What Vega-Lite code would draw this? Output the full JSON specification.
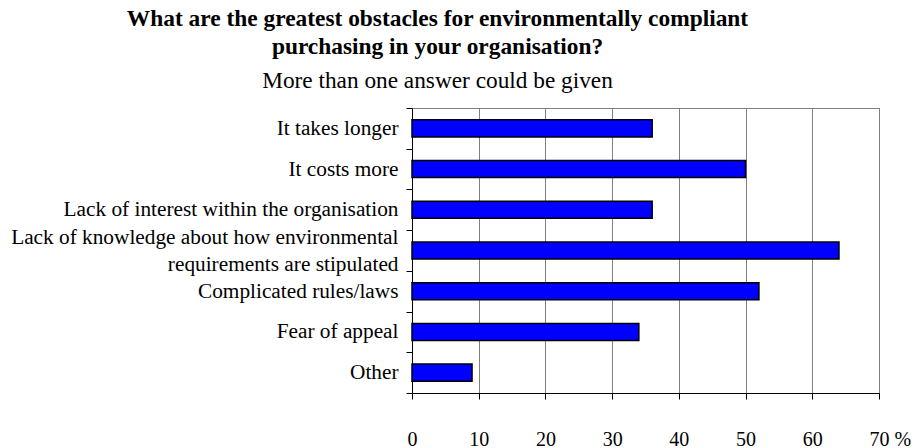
{
  "$schema": "https://vega.github.io/schema/vega-lite/v6.json",
  "autosize": {"type": "none"},
  "padding": {"left": 412, "top": 108, "right": 40, "bottom": 55},
  "width": 467,
  "height": 285,
  "background": "white",
  "title": {
    "text": ["What are the greatest obstacles for environmentally compliant", "purchasing in your organisation?"],
    "subtitle": "More than one answer could be given",
    "font": "Liberation Serif",
    "fontSize": 23.4,
    "fontWeight": "bold",
    "lineHeight": 28,
    "subtitleFont": "Liberation Serif",
    "subtitleFontSize": 23.3,
    "subtitleColor": "black",
    "subtitlePadding": 10,
    "color": "black",
    "anchor": "middle",
    "frame": "group",
    "dx": -208,
    "offset": 4
  },
  "config": {
    "view": {"stroke": "#808080", "strokeWidth": 1}
  },
  "data": {
    "values": [
      {"obstacle": "It takes longer", "percent": 36},
      {"obstacle": "It costs more", "percent": 50},
      {"obstacle": "Lack of interest within the organisation", "percent": 36},
      {"obstacle": "Lack of knowledge about how environmental requirements are stipulated", "percent": 64},
      {"obstacle": "Complicated rules/laws", "percent": 52},
      {"obstacle": "Fear of appeal", "percent": 34},
      {"obstacle": "Other", "percent": 9}
    ]
  },
  "mark": {"type": "bar", "fill": "#0000ff", "stroke": "black", "strokeWidth": 1.5, "height": {"band": 0.42}},
  "encoding": {
    "y": {
      "field": "obstacle",
      "type": "nominal",
      "sort": null,
      "scale": {"paddingInner": 0, "paddingOuter": 0},
      "axis": {
        "title": null,
        "domainColor": "black",
        "domainWidth": 1,
        "tickColor": "black",
        "tickSize": 6,
        "tickBand": "extent",
        "labelFont": "Liberation Serif",
        "labelFontSize": 21.3,
        "labelColor": "black",
        "labelPadding": 8,
        "labelLimit": 0,
        "labelLineHeight": 27,
        "labelOffset": {"condition": {"test": "datum.value == 'Lack of knowledge about how environmental requirements are stipulated'", "value": -13}, "value": 0},
        "labelExpr": "datum.value == 'Lack of knowledge about how environmental requirements are stipulated' ? ['Lack of knowledge about how environmental', 'requirements are stipulated'] : datum.value"
      }
    },
    "x": {
      "field": "percent",
      "type": "quantitative",
      "scale": {"domain": [0, 70], "nice": false},
      "axis": {
        "title": null,
        "values": [0, 10, 20, 30, 40, 50, 60, 70],
        "grid": true,
        "gridColor": "#808080",
        "gridWidth": 1,
        "domainColor": "black",
        "domainWidth": 1,
        "tickColor": "black",
        "tickSize": 6,
        "labelFont": "Liberation Serif",
        "labelFontSize": 20,
        "labelColor": "black",
        "labelPadding": 30,
        "labelFlush": false,
        "labelOverlap": false,
        "labelExpr": "datum.value == 70 ? '70  %' : datum.label",
        "labelAlign": {"condition": {"test": "datum.value == 70", "value": "left"}, "value": "center"},
        "labelOffset": {"condition": {"test": "datum.value == 70", "value": -10}, "value": 0}
      }
    }
  }
}
